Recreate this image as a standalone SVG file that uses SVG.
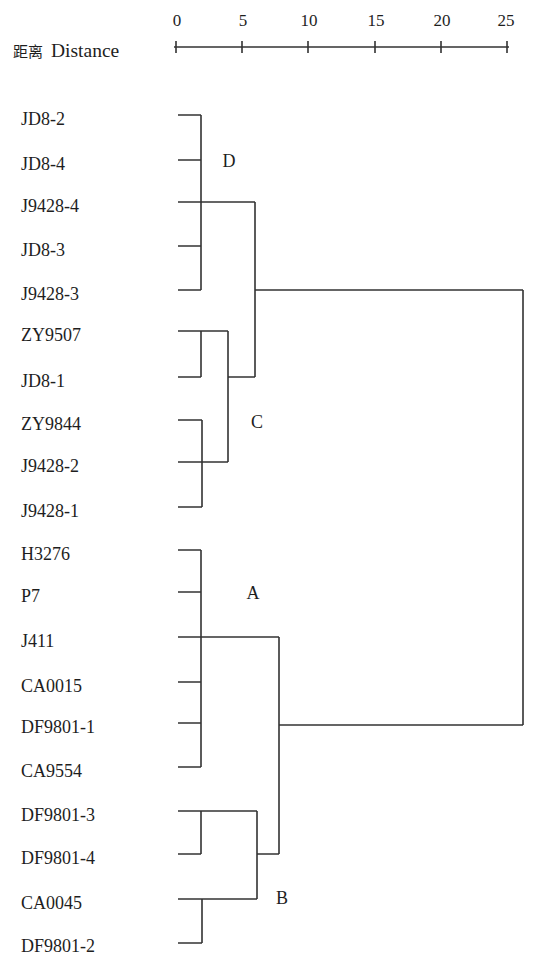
<svg xmlns="http://www.w3.org/2000/svg" width="549" height="955" viewBox="0 0 549 955">
<style>
text{font-family:"Liberation Serif","Times New Roman",serif;font-size:18px;fill:#1e1e1e}
.cjk{font-family:"Noto Sans CJK SC","Liberation Serif",serif;font-size:15px}
.t{font-size:17px}
.c{text-anchor:middle}
.ln{stroke:#333;stroke-width:1.6;fill:none}
</style>
<rect width="549" height="955" fill="#fff"/>
<g id="axis">
<path class="ln" d="M174 47H509M176 41V53M242 41V53M308 41V53M375 41V53M441 41V53M507 41V53"/>
<text class="c t" x="177" y="26">0</text>
<text class="c t" x="243" y="26">5</text>
<text class="c t" x="309" y="26">10</text>
<text class="c t" x="376" y="26">15</text>
<text class="c t" x="442" y="26">20</text>
<text class="c t" x="506" y="26">25</text>
<text x="13" y="57"><tspan class="cjk">距离</tspan><tspan x="51" style="font-size:19.5px">Distance</tspan></text>
</g>
<g id="JD8-2"><text x="21" y="125">JD8-2</text></g>
<g id="JD8-4"><text x="21" y="170">JD8-4</text></g>
<g id="J9428-4"><text x="21" y="212">J9428-4</text></g>
<g id="JD8-3"><text x="21" y="256">JD8-3</text></g>
<g id="J9428-3"><text x="21" y="300">J9428-3</text></g>
<g id="ZY9507"><text x="21" y="341">ZY9507</text></g>
<g id="JD8-1"><text x="21" y="387">JD8-1</text></g>
<g id="ZY9844"><text x="21" y="430">ZY9844</text></g>
<g id="J9428-2"><text x="21" y="472">J9428-2</text></g>
<g id="J9428-1"><text x="21" y="517">J9428-1</text></g>
<g id="H3276"><text x="21" y="560">H3276</text></g>
<g id="P7"><text x="21" y="602">P7</text></g>
<g id="J411"><text x="21" y="647">J411</text></g>
<g id="CA0015"><text x="21" y="692">CA0015</text></g>
<g id="DF9801-1"><text x="21" y="733">DF9801-1</text></g>
<g id="CA9554"><text x="21" y="777">CA9554</text></g>
<g id="DF9801-3"><text x="21" y="821">DF9801-3</text></g>
<g id="DF9801-4"><text x="21" y="864">DF9801-4</text></g>
<g id="CA0045"><text x="21" y="909">CA0045</text></g>
<g id="DF9801-2"><text x="21" y="952">DF9801-2</text></g>
<g id="cluster-D"><text class="c" x="229" y="167">D</text></g>
<g id="cluster-C"><text class="c" x="257" y="428">C</text></g>
<g id="cluster-A"><text class="c" x="253" y="599">A</text></g>
<g id="cluster-B"><text class="c" x="282" y="904">B</text></g>
<g id="connectors">
<path class="ln" d="M178 115H201M178 160H201M178 202H255M178 246H201M178 290H201M201 115V290M255 202V377M255 290H523"/>
<path class="ln" d="M178 331H228M178 377H201M201 331V377M178 420H202M178 462H228M178 507H202M202 420V507M228 331V462M228 377H255"/>
<path class="ln" d="M178 550H201M178 592H201M178 637H279M178 682H201M178 723H201M178 767H201M201 550V767M279 637V854M279 725H523M523 290V725"/>
<path class="ln" d="M178 811H257M178 854H201M201 811V854M178 899H257M178 943H202M202 899V943M257 811V899M257 854H279"/>
</g>
</svg>
